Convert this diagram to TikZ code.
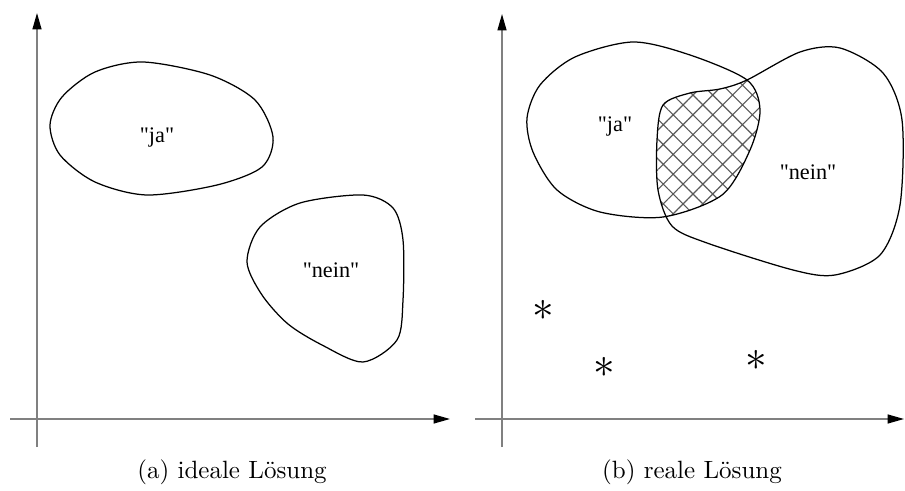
\documentclass[tikz,border=0pt]{standalone}
\usepackage{fontspec}
\newfontfamily\labelfont{Liberation Serif}
\usetikzlibrary{arrows.meta,patterns.meta}

\tikzset{
  axis/.style={draw=gray,line width=0.6pt,-{Triangle[length=6.6pt,width=3.6pt,color=black]}},
  region/.style={line width=0.5pt},
  lab/.style={font=\labelfont\fontsize{8.9}{10}\selectfont,inner sep=0pt},
  outlier/.style={font=\fontsize{17}{17}\selectfont,inner sep=0pt},
  caption/.style={inner sep=0pt}
}

\begin{document}
\begin{tikzpicture}[x=0.4pt,y=-0.4pt,line join=round]
	\useasboundingbox (0,0) rectangle (905,491);

	% (a) ideale Loesung
	\coordinate (ax0) at (10,419);
	\coordinate (ax1) at (450,419);
	\coordinate (ay0) at (37,447);
	\coordinate (ay1) at (37,13);
	\draw[axis] (ax0) -- (ax1);
	\draw[axis] (ay0) -- (ay1);
	\draw[region] plot[smooth cycle] coordinates {(50,125) (60,155) (95,182) (147,195) (217,185) (262,167) (273,137) (255,100) (210,75) (143,62) (95,72) (62,97)};
	\draw[region] plot[smooth cycle] coordinates {(363,195) (393,208) (403,240) (403,300) (397,340) (363,362) (322,345) (288,324) (262,295) (247,262) (260,227) (300,203)};
	\node[lab] (jaA) at (157,138) {"ja"};
	\node[lab] (neinA) at (331,270) {"nein"};
	\node[caption] (capA) at (232,472) {(a) ideale Lösung};

	% (b) reale Loesung
	\coordinate (bx0) at (475,419);
	\coordinate (bx1) at (904,419);
	\coordinate (by0) at (502,447);
	\coordinate (by1) at (502,14);
	\draw[axis] (bx0) -- (bx1);
	\draw[axis] (by0) -- (by1);
	\path[save path=\jaBpath] plot[smooth cycle] coordinates {(527,118) (540,85) (575,57) (633,42) (690,55) (747,80) (760,110) (750,150) (722,195) (663,217) (600,212) (557,190) (533,152)};
	\path[save path=\neinBpath] plot[smooth cycle] coordinates {(663,105) (690,93) (720,89) (747,80) (800,52) (840,48) (883,73) (902,120) (900,205) (880,255) (835,275) (793,270) (707,243) (672,226) (658,190) (657,140)};
	\begin{scope}
		\clip[use path=\jaBpath];
		\fill[pattern={Hatch[angle=45,distance=5.6pt,line width=0.45pt]},pattern color=gray!70!black,use path=\neinBpath];
	\end{scope}
	\draw[region,use path=\jaBpath];
	\draw[region,use path=\neinBpath];
	\node[lab] (jaB) at (615,127) {"ja"};
	\node[lab] (neinB) at (808,172) {"nein"};
	\node[outlier] (s1) at (543,310) {$\ast$};
	\node[outlier] (s2) at (604,367) {$\ast$};
	\node[outlier] (s3) at (756,360) {$\ast$};
	\node[caption] (capB) at (692,472) {(b) reale Lösung};
\end{tikzpicture}
\end{document}
